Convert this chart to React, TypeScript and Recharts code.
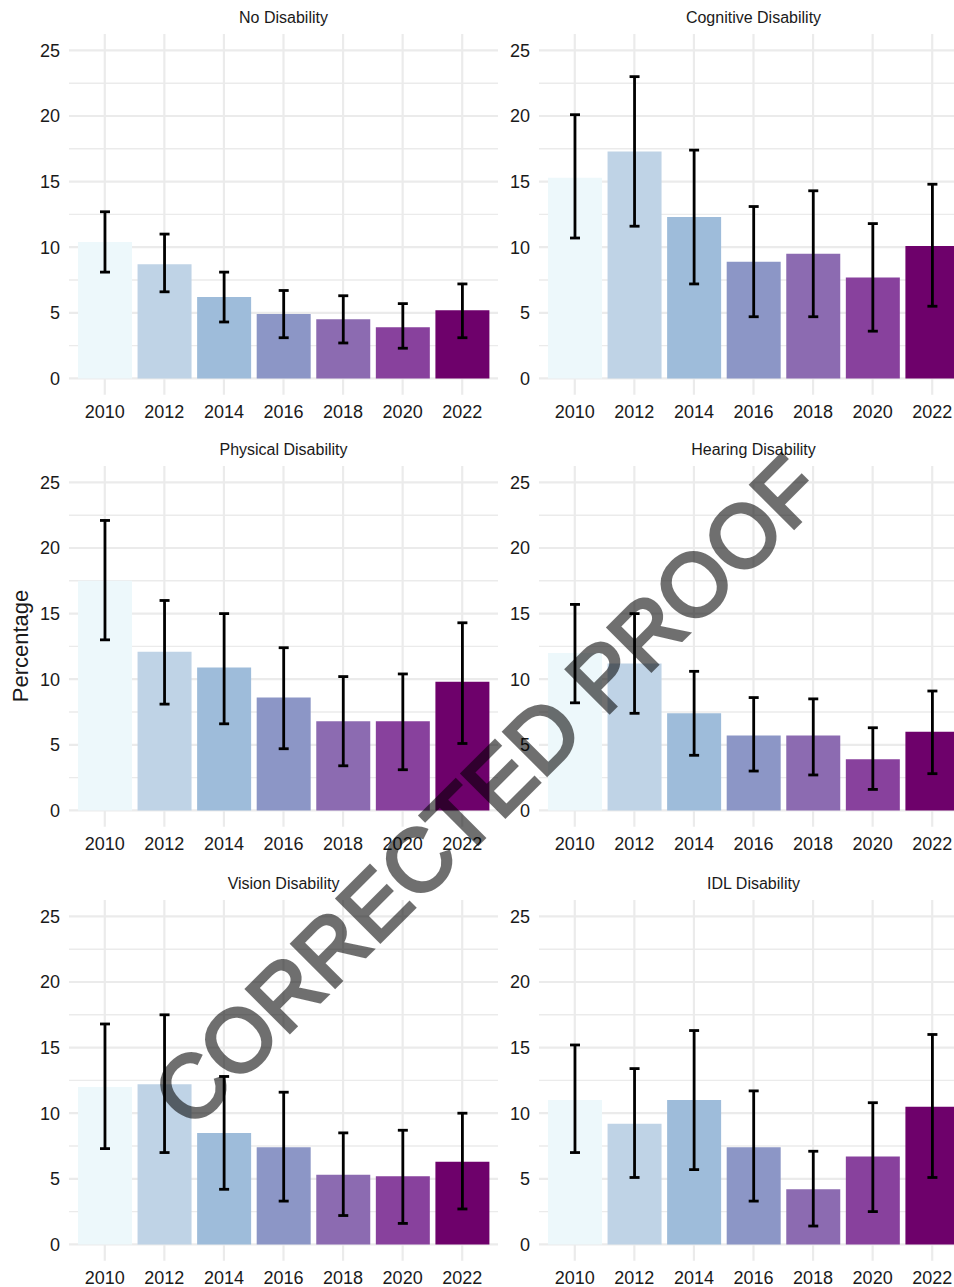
import { BarChart, Bar, XAxis, YAxis, CartesianGrid, ErrorBar, Cell } from "recharts"

const years = ["2010", "2012", "2014", "2016", "2018", "2020", "2022"]
const groups = [
  "No Disability",
  "Cognitive Disability",
  "Physical Disability",
  "Hearing Disability",
  "Vision Disability",
  "IDL Disability",
]

// percentage + lower / upper 95% bounds
const noDisPct = [10.4, 8.7, 6.2, 4.9, 4.5, 3.9, 5.2]
const noDisLow = [8.1, 6.6, 4.3, 3.1, 2.7, 2.3, 3.1]
const noDisHigh = [12.7, 11.0, 8.1, 6.7, 6.3, 5.7, 7.2]

const cogPct = [15.3, 17.3, 12.3, 8.9, 9.5, 7.7, 10.1]
const cogLow = [10.7, 11.6, 7.2, 4.7, 4.7, 3.6, 5.5]
const cogHigh = [20.1, 23.0, 17.4, 13.1, 14.3, 11.8, 14.8]

const physPct = [17.5, 12.1, 10.9, 8.6, 6.8, 6.8, 9.8]
const physLow = [13.0, 8.1, 6.6, 4.7, 3.4, 3.1, 5.1]
const physHigh = [22.1, 16.0, 15.0, 12.4, 10.2, 10.4, 14.3]

const hearPct = [12.0, 11.2, 7.4, 5.7, 5.7, 3.9, 6.0]
const hearLow = [8.2, 7.4, 4.2, 3.0, 2.7, 1.6, 2.8]
const hearHigh = [15.7, 15.0, 10.6, 8.6, 8.5, 6.3, 9.1]

const visPct = [12.0, 12.2, 8.5, 7.4, 5.3, 5.2, 6.3]
const visLow = [7.3, 7.0, 4.2, 3.3, 2.2, 1.6, 2.7]
const visHigh = [16.8, 17.5, 12.8, 11.6, 8.5, 8.7, 10.0]

const idlPct = [11.0, 9.2, 11.0, 7.4, 4.2, 6.7, 10.5]
const idlLow = [7.0, 5.1, 5.7, 3.3, 1.4, 2.5, 5.1]
const idlHigh = [15.2, 13.4, 16.3, 11.7, 7.1, 10.8, 16.0]

const yTicks = [0, 5, 10, 15, 20, 25]
const yMinor = [2.5, 7.5, 12.5, 17.5, 22.5]

const colors = ["#edf8fb", "#bfd3e6", "#9ebcda", "#8c96c6", "#8c6bb1", "#88419d", "#6e016b"]

const font = "'Liberation Sans', Arial, Helvetica, sans-serif"

const panels = [
  { title: groups[0], pct: noDisPct, low: noDisLow, high: noDisHigh },
  { title: groups[1], pct: cogPct, low: cogLow, high: cogHigh },
  { title: groups[2], pct: physPct, low: physLow, high: physHigh },
  { title: groups[3], pct: hearPct, low: hearLow, high: hearHigh },
  { title: groups[4], pct: visPct, low: visLow, high: visHigh },
  { title: groups[5], pct: idlPct, low: idlLow, high: idlHigh },
]

const colLeft = [0, 470]
const rowTop = [0, 432, 865.5]
const chartW = 500
const chartH = 432

function Panel({ pct, low, high }: { pct: number[]; low: number[]; high: number[] }) {
  const data = years.map((y, i) => ({
    year: y,
    value: pct[i],
    err: [pct[i] - low[i], high[i] - pct[i]],
  }))
  const tick = { fill: "#1a1a1a", fontSize: 18, fontFamily: font }
  return (
    <BarChart
      width={chartW}
      height={chartH}
      data={data}
      margin={{ top: 34, right: 2, bottom: 7.2, left: 0 }}
      barCategoryGap="5%"
    >
      <CartesianGrid stroke="#ebebeb" strokeWidth={1.4} vertical={false} horizontalValues={yMinor} syncWithTicks />
      <CartesianGrid stroke="#ebebeb" strokeWidth={2.2} syncWithTicks />
      <XAxis
        dataKey="year"
        interval={0}
        tick={tick}
        tickLine={false}
        axisLine={false}
        tickSize={0}
        tickMargin={10.5}
        height={30}
        padding={{ left: 6, right: 6 }}
      />
      <YAxis
        type="number"
        domain={[-1.25, 26.25]}
        ticks={yTicks}
        allowDataOverflow
        tick={tick}
        tickLine={false}
        axisLine={false}
        tickSize={0}
        tickMargin={9}
        width={69}
      />
      <Bar dataKey="value" isAnimationActive={false}>
        {data.map((_, i) => (
          <Cell key={i} fill={colors[i]} />
        ))}
        <ErrorBar dataKey="err" direction="y" width={5} strokeWidth={2.8} stroke="#000" isAnimationActive={false} />
      </Bar>
    </BarChart>
  )
}

export default function App() {
  return (
    <div
      style={{
        position: "absolute",
        left: 0,
        top: 0,
        width: 954,
        height: 1287,
        overflow: "hidden",
        background: "#fff",
        fontFamily: font,
      }}
    >
      {panels.map((p, i) => (
        <div
          key={p.title}
          style={{ position: "absolute", left: colLeft[i % 2], top: rowTop[Math.floor(i / 2)], width: chartW, height: chartH }}
        >
          <Panel pct={p.pct} low={p.low} high={p.high} />
        </div>
      ))}
      <svg
        width={954}
        height={1287}
        style={{ position: "absolute", left: 0, top: 0, pointerEvents: "none" }}
        fontFamily={font}
      >
        {panels.map((p, i) => (
          <text
            key={p.title}
            x={colLeft[i % 2] + 69 + 214.5}
            y={rowTop[Math.floor(i / 2)] + 23.3}
            textAnchor="middle"
            fontSize={16}
            fill="#1a1a1a"
          >
            {p.title}
          </text>
        ))}
        <text transform="translate(28, 646) rotate(-90)" textAnchor="middle" fontSize={22} fill="#1a1a1a">
          Percentage
        </text>
        <text
          transform="translate(509, 813) rotate(-45)"
          textAnchor="middle"
          fontSize={88.5}
          fill="#000"
          stroke="#000"
          strokeWidth={3.5}
          opacity={0.56}
        >
          CORRECTED PROOF
        </text>
      </svg>
    </div>
  )
}
